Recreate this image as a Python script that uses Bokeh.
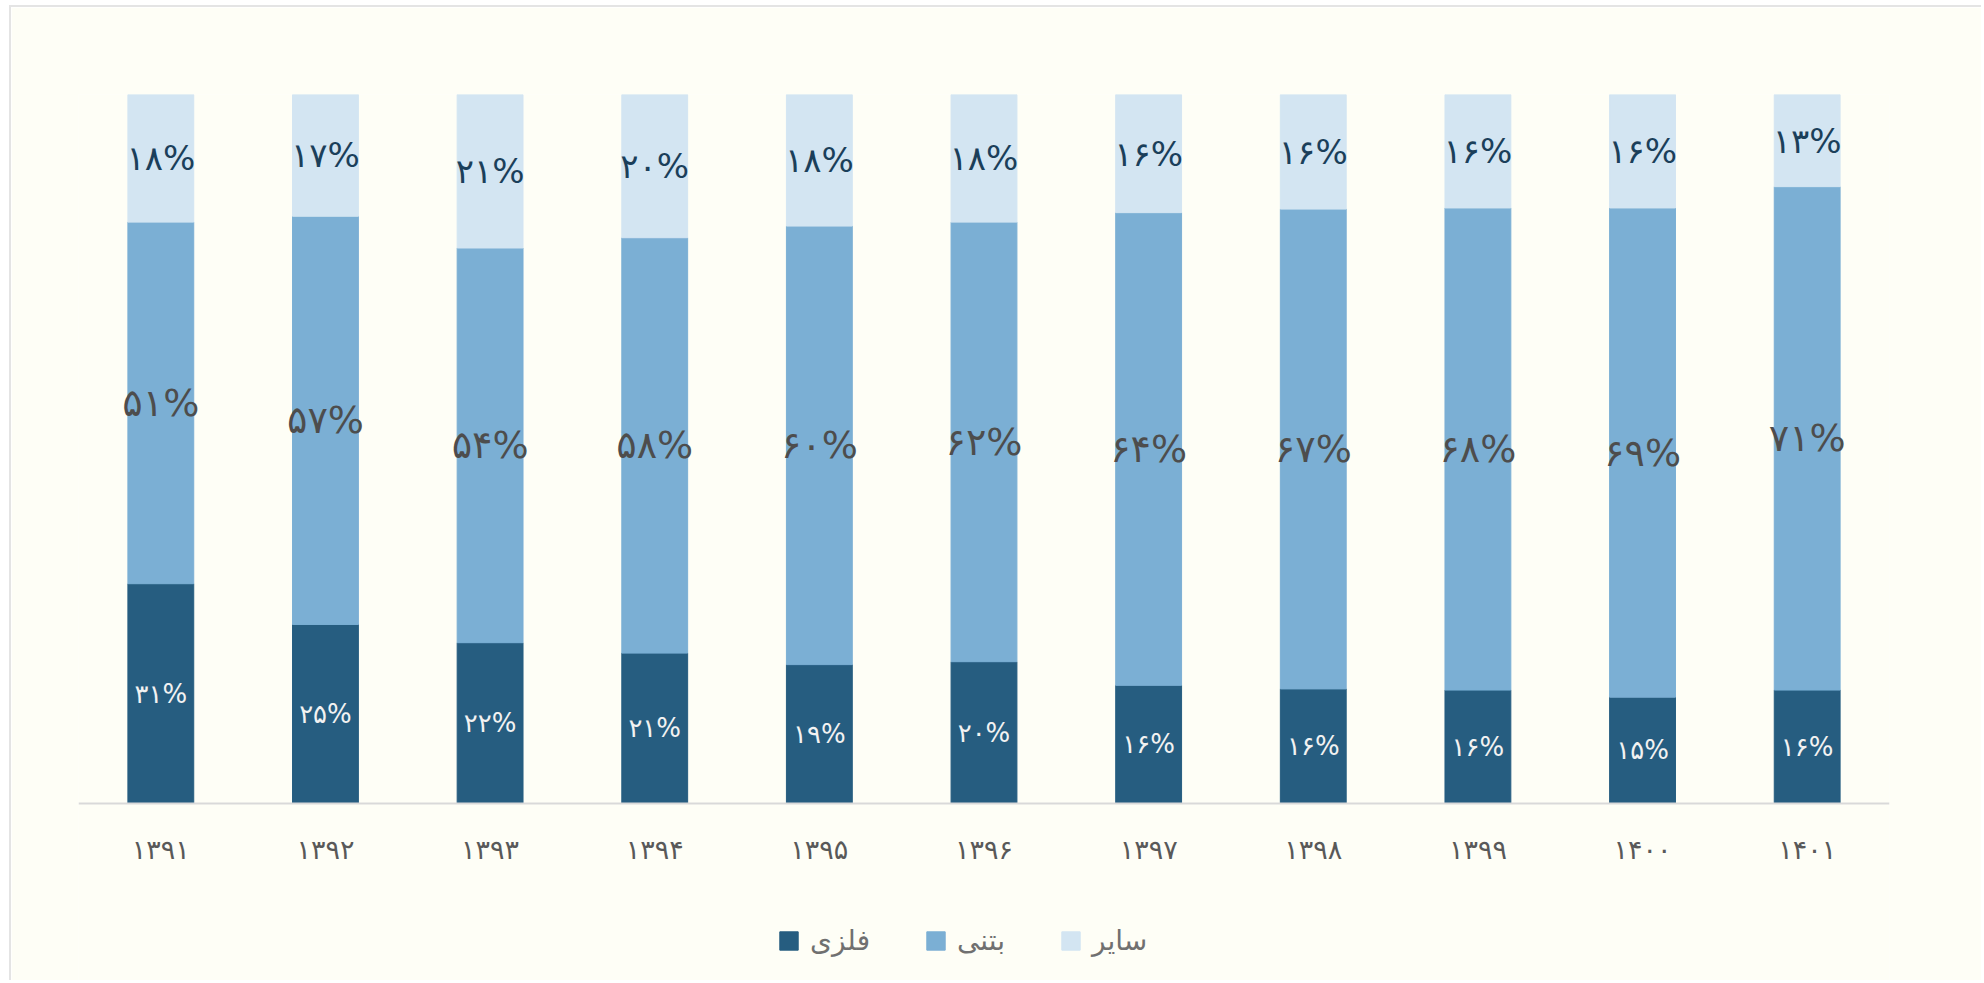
from bokeh.plotting import figure
from bokeh.models import ColumnDataSource, Range1d, FactorRange, Legend, LegendItem
from bokeh.core.properties import value
from bokeh.embed import file_html
from bokeh.resources import INLINE

# ---- data ----
years = ["۱۳۹۱", "۱۳۹۲", "۱۳۹۳", "۱۳۹۴", "۱۳۹۵", "۱۳۹۶", "۱۳۹۷", "۱۳۹۸", "۱۳۹۹", "۱۴۰۰", "۱۴۰۱"]
metal = [31, 25, 22, 21, 19, 20, 16, 16, 16, 15, 16]        # فلزی
concrete = [51, 57, 54, 58, 60, 62, 64, 67, 68, 69, 71]     # بتنی
other = [18, 17, 21, 20, 18, 18, 16, 16, 16, 16, 13]        # سایر
series_names = ["فلزی", "بتنی", "سایر"]

BG = "#FEFEF6"
C_DARK = "#265D80"
C_MID = "#7BAFD4"
C_LIGHT = "#D3E5F2"
FONT = "DejaVu Sans"

PD = str.maketrans("0123456789", "۰۱۲۳۴۵۶۷۸۹")
def fa(n):
    return str(n).translate(PD) + "%"

tot = [a + b + c for a, b, c in zip(metal, concrete, other)]
m_top = [a / t for a, t in zip(metal, tot)]
c_top = [(a + b) / t for a, b, t in zip(metal, concrete, tot)]
o_top = [1.0 for _ in tot]

src = ColumnDataSource(dict(
    x=years,
    m0=[0.0] * len(years), m1=m_top,
    c0=m_top, c1=c_top,
    o0=c_top, o1=o_top,
    m_mid=[(0 + b) / 2 for b in m_top],
    c_mid=[(a + b) / 2 for a, b in zip(m_top, c_top)],
    o_mid=[(a + b) / 2 for a, b in zip(c_top, o_top)],
    m_lab=[fa(v) for v in metal],
    c_lab=[fa(v) for v in concrete],
    o_lab=[fa(v) for v in other],
))

# layout in pixels: 100% bar height = 709 px, frame extends 179 px below the baseline
BAR_PX = 709
BELOW_PX = 179
y_min = -BELOW_PX / BAR_PX

p = figure(width=1972, height=975, x_range=FactorRange(*years, range_padding=0),
           y_range=Range1d(y_min, 1), output_backend="svg", toolbar_location=None,
           min_border_left=67, min_border_right=94, min_border_top=87, min_border_bottom=0,
           background_fill_color=BG, border_fill_color=BG, outline_line_color=None,
           y_axis_location=None)
p.styles = {"border-left": "2px solid #E4E4E4", "border-top": "2px solid #E4E4E4",
            "margin-left": "9px", "margin-top": "5px"}

r1 = p.vbar(x="x", bottom="m0", top="m1", width=0.4, source=src, fill_color=C_DARK, line_color=C_DARK)
r2 = p.vbar(x="x", bottom="c0", top="c1", width=0.4, source=src, fill_color=C_MID, line_color=C_MID)
r3 = p.vbar(x="x", bottom="o0", top="o1", width=0.4, source=src, fill_color=C_LIGHT, line_color=C_LIGHT)

p.text(x="x", y="m_mid", text="m_lab", source=src, text_align="center", text_baseline="middle",
       text_font=value(FONT), text_font_size="26px", text_color="#F2F2F2")
p.text(x="x", y="c_mid", text="c_lab", source=src, text_align="center", text_baseline="middle",
       text_font=value(FONT), text_font_size="38px", text_color="#4D4D4D")
p.text(x="x", y="o_mid", text="o_lab", source=src, text_align="center", text_baseline="middle",
       text_font=value(FONT), text_font_size="34px", text_color="#1B3F5A")

p.xgrid.visible = False
p.ygrid.visible = False
ax = p.xaxis[0]
ax.fixed_location = 0
ax.axis_line_color = "#D9D9D9"
ax.axis_line_width = 2
ax.major_tick_line_color = None
ax.minor_tick_line_color = None
ax.major_tick_out = 0
ax.major_tick_in = 0
ax.major_label_text_font = FONT
ax.major_label_text_font_size = "27px"
ax.major_label_text_color = "#595959"
ax.major_label_standoff = 30

legend = Legend(items=[LegendItem(label=series_names[0], renderers=[r1]),
                       LegendItem(label=series_names[1], renderers=[r2]),
                       LegendItem(label=series_names[2], renderers=[r3])],
                orientation="horizontal", location=(699, 25),
                glyph_width=23, glyph_height=23, label_standoff=10, spacing=54,
                padding=0, margin=0, border_line_alpha=0, background_fill_alpha=0,
                label_text_font=FONT, label_text_font_size="28px", label_text_color="#707070")
p.add_layout(legend, "center")

html = file_html(p, INLINE)
html = html.replace("<body>", '<body style="background:%s">' % BG, 1)
open("out.html", "w").write(html)
